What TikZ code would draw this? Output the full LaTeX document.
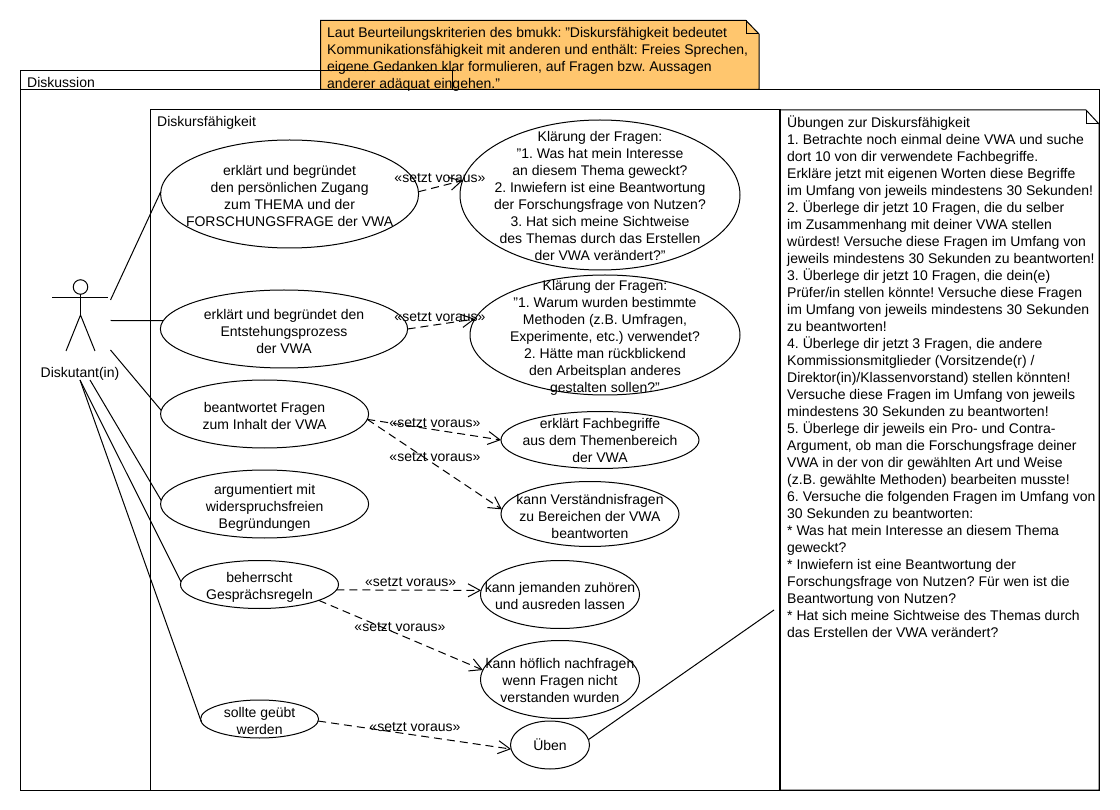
\documentclass[tikz,border=0pt]{standalone}
\usepackage{fontspec}
\setmainfont{Liberation Sans}
\usetikzlibrary{shapes.geometric,arrows.meta}
\definecolor{noteorange}{HTML}{FFC66E}
\tikzset{
  line/.style={draw=black,line width=1pt},
  frameline/.style={draw=black,line width=1pt},
  ucase/.style={ellipse,draw=black,line width=1pt,inner sep=0pt,outer sep=0pt},
  uctext/.style={font=\fontsize{14}{17}\selectfont\frenchspacing,align=center,inner sep=0pt},
  txt/.style={font=\fontsize{14}{17}\selectfont\frenchspacing,align=left,inner sep=0pt},
  dep/.style={draw=black,line width=1pt,dash pattern=on 8pt off 5pt,-{Straight Barb[length=12pt,width=13pt,line width=1pt]}},
  deplabel/.style={font=\fontsize{14}{17}\selectfont,inner sep=0pt}
}
% name, cx, cy, rx, ry, text offset downward, text
\newcommand{\usecase}[7]{%
  \node[ucase,minimum width=#4*2pt,minimum height=#5*2pt] (#1) at (#2,#3) {};
  \node[uctext,yshift=-#6pt] (#1t) at (#1) {#7};
}
\begin{document}
\begin{tikzpicture}[x=1pt,y=-1pt]
\useasboundingbox (0,0) rectangle (1120,810);
% orange note
\path[fill=noteorange,draw=black,line width=1pt] (320.5,20.5) -- (746,20.5) -- (759,34) -- (759,89.5) -- (320.5,89.5) -- cycle;
\path[draw=black,line width=1pt] (746,20.5) -- (746,34) -- (759,34);
\node[txt,anchor=north west] (notetop) at (327,27.5) {Laut Beurteilungskriterien des bmukk: "Diskursfähigkeit bedeutet\\Kommunikationsfähigkeit mit anderen und enthält: Freies Sprechen,\\eigene Gedanken klar formulieren, auf Fragen bzw. Aussagen\\anderer adäquat eingehen."};
% outer package frame
\path[frameline] (20.5,90) -- (20.5,70.5) -- (452,70.5) -- (452,90);
\path[frameline] (20.5,90) rectangle (1099,790);
\node[txt,anchor=west] (outerlabel) at (27,82.5) {Diskussion};
% inner frame
\path[frameline] (150.5,110) rectangle (780,790);
\node[txt,anchor=west] (innerlabel) at (157,123) {Diskursfähigkeit};
% exercise note
\path[draw=black,line width=1pt] (780,110) -- (1086,110) -- (1099,124) -- (1099,790) -- (780,790) -- cycle;
\path[draw=black,line width=2pt] (780,110) -- (780,790);
\path[draw=black,line width=1pt] (1086,110) -- (1086,124) -- (1099,124);
\node[txt,anchor=north west] (notexercise) at (787,115.5) {Übungen zur Diskursfähigkeit\\
1. Betrachte noch einmal deine VWA und suche\\
dort 10 von dir verwendete Fachbegriffe.\\
Erkläre jetzt mit eigenen Worten diese Begriffe\\
im Umfang von jeweils mindestens 30 Sekunden!\\
2. Überlege dir jetzt 10 Fragen, die du selber\\
im Zusammenhang mit deiner VWA stellen\\
würdest! Versuche diese Fragen im Umfang von\\
jeweils mindestens 30 Sekunden zu beantworten!\\
3. Überlege dir jetzt 10 Fragen, die dein(e)\\
Prüfer/in stellen könnte! Versuche diese Fragen\\
im Umfang von jeweils mindestens 30 Sekunden\\
zu beantworten!\\
4. Überlege dir jetzt 3 Fragen, die andere\\
Kommissionsmitglieder (Vorsitzende(r) /\\
Direktor(in)/Klassenvorstand) stellen könnten!\\
Versuche diese Fragen im Umfang von jeweils\\
mindestens 30 Sekunden zu beantworten!\\
5. Überlege dir jeweils ein Pro- und Contra-\\
Argument, ob man die Forschungsfrage deiner\\
VWA in der von dir gewählten Art und Weise\\
(z.B. gewählte Methoden) bearbeiten musste!\\
6. Versuche die folgenden Fragen im Umfang von\\
30 Sekunden zu beantworten:\\
* Was hat mein Interesse an diesem Thema\\
geweckt?\\
* Inwiefern ist eine Beantwortung der\\
Forschungsfrage von Nutzen? Für wen ist die\\
Beantwortung von Nutzen?\\
* Hat sich meine Sichtweise des Themas durch\\
das Erstellen der VWA verändert?};
% actor
\node[circle,draw=black,line width=1pt,fill=none,minimum size=14.5pt,inner sep=0pt,outer sep=0pt] (head) at (80.5,287) {};
\coordinate (hip) at (80.5,315);
\path[line] (head.south) -- (hip);
\path[line] (52,298) -- (108,298);
\path[line] (66,351) -- (hip) -- (95,351);
\node[txt,anchor=center] (actorlabel) at (80,374) {Diskutant(in)};
\coordinate (a1) at (110.5,300);
\coordinate (a2) at (110.5,320.5);
\coordinate (a3) at (110.5,350);
\coordinate (a4) at (90,380);
\coordinate (a5) at (80,380);
\coordinate (a6) at (80,380);
% use cases
\usecase{E1}{289.6}{194}{129}{54}{2}{erklärt und begründet\\den persönlichen Zugang\\zum THEMA und der\\FORSCHUNGSFRAGE der VWA}
\usecase{E2}{284}{329}{123.6}{39}{2}{erklärt und begründet den\\Entstehungsprozess\\der VWA}
\usecase{E3}{264.6}{414}{104}{34}{2}{beantwortet Fragen\\zum Inhalt der VWA}
\usecase{E4}{264.6}{504}{104}{34}{4}{argumentiert mit\\widerspruchsfreien\\Begründungen}
\usecase{E5}{259.5}{584.5}{79}{24}{3}{beherrscht\\Gesprächsregeln}
\usecase{E6}{259.6}{719}{59}{19}{2}{sollte geübt\\werden}
\usecase{R1}{600}{195}{140}{75}{1}{Klärung der Fragen:\\"1. Was hat mein Interesse\\an diesem Thema geweckt?\\2. Inwiefern ist eine Beantwortung\\der Forschungsfrage von Nutzen?\\3. Hat sich meine Sichtweise\\des Themas durch das Erstellen\\der VWA verändert?"}
\usecase{R2}{605}{335}{135}{60}{3}{Klärung der Fragen:\\"1. Warum wurden bestimmte\\Methoden (z.B. Umfragen,\\Experimente, etc.) verwendet?\\2. Hätte man rückblickend\\den Arbeitsplan anderes\\gestalten sollen?"}
\usecase{R3}{600}{440}{99}{28.5}{0}{erklärt Fachbegriffe\\aus dem Themenbereich\\der VWA}
\usecase{R4}{590}{514}{89}{32.5}{2}{kann Verständnisfragen\\zu Bereichen der VWA\\beantworten}
\usecase{R5}{560}{594.5}{79.5}{34}{1}{kann jemanden zuhören\\und ausreden lassen}
\usecase{R6}{560}{679.5}{79.5}{39}{1}{kann höflich nachfragen\\wenn Fragen nicht\\verstanden wurden}
\usecase{R7}{550}{745}{39.5}{24}{0}{Üben}
% associations
\draw[line] (a1) -- (E1.179);
\draw[line] (a2) -- (E2.176);
\draw[line] (a3) -- (E3.178);
\draw[line] (a4) -- (E4.178);
\draw[line] (a5) -- (E5.178);
\draw[line] (a6) -- (E6.183);
\coordinate (noteend) at (774,610);
\draw[line] (R7.8) -- (noteend);
% dependencies
\draw[dep] (E1.1.5) -- (R1.174);
\draw[dep] (E2.0) -- (R2.173.6);
\draw[dep] (E3.-3) -- (R3.180);
\draw[dep] (E3.-3) -- (R4.177);
\draw[dep] (E5.-4) -- (R5.177);
\draw[dep] (E5.-15) -- (R6.173);
\draw[dep] (E6.-2) -- (R7.186);
% labels
\node[deplabel] (l1) at (440,178) {«setzt voraus»};
\node[deplabel] (l2) at (440,317) {«setzt voraus»};
\node[deplabel] (l3) at (435,423) {«setzt voraus»};
\node[deplabel] (l4) at (435,457) {«setzt voraus»};
\node[deplabel] (l5) at (410.7,582) {«setzt voraus»};
\node[deplabel] (l6) at (400,627) {«setzt voraus»};
\node[deplabel] (l7) at (415,727) {«setzt voraus»};
\end{tikzpicture}
\end{document}
